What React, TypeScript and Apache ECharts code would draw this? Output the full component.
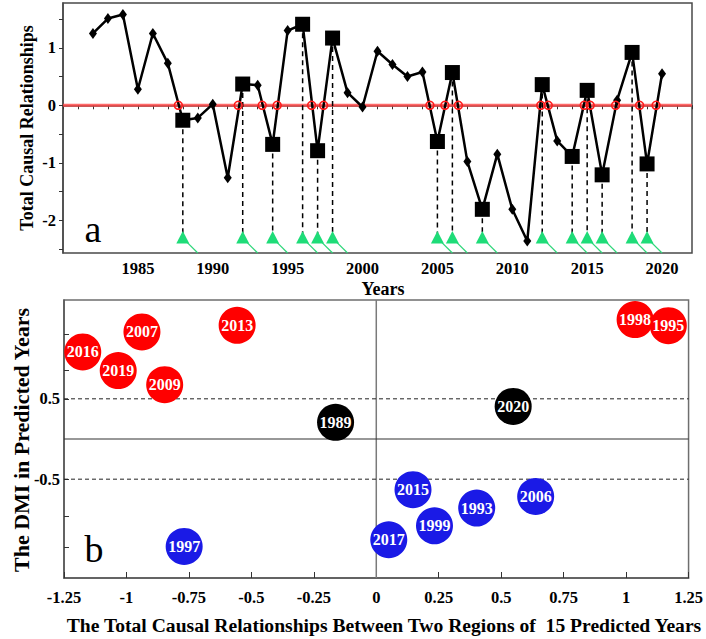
import React, { useEffect, useRef } from "react";
import * as echarts from "echarts";

// ---------- Panel a: time series ----------
const years = [
  1982, 1983, 1984, 1985, 1986, 1987, 1988, 1989, 1990, 1991, 1992, 1993, 1994,
  1995, 1996, 1997, 1998, 1999, 2000, 2001, 2002, 2003, 2004, 2005, 2006, 2007,
  2008, 2009, 2010, 2011, 2012, 2013, 2014, 2015, 2016, 2017, 2018, 2019, 2020,
];
const totalCausal = [
  1.25, 1.51, 1.58, 0.28, 1.25, 0.73, -0.26, -0.22, 0.02, -1.26, 0.37, 0.35, -0.68,
  1.3, 1.41, -0.79, 1.17, 0.22, -0.03, 0.94, 0.71, 0.5, 0.58, -0.63, 0.57, -0.98,
  -1.81, -0.85, -1.81, -2.36, 0.36, -0.62, -0.89, 0.26, -1.21, 0.09, 0.92, -1.02, 0.55,
];
const predictedYears = [
  1988, 1992, 1994, 1996, 1997, 1998, 2005, 2006, 2008, 2012, 2014, 2015, 2016, 2018, 2019,
];
const zeroCrossings = [
  1987.7, 1991.7, 1993.3, 1994.3, 1996.6, 1997.4, 2004.5, 2005.5, 2006.4, 2011.9,
  2012.4, 2014.8, 2015.2, 2016.9, 2018.5, 2019.6,
];
const markerLevel = -2.31;
const topXLabels = [1985, 1990, 1995, 2000, 2005, 2010, 2015, 2020];
const topTicks = [-2.5, -2, -1.5, -1, -0.5, 0, 0.5, 1, 1.5];
const topLabels = [-2, -1, 0, 1];

// ---------- Panel b: scatter ----------
const bubbleYears = [
  "2016", "2007", "2013", "2019", "2009", "1989", "1998", "1995", "2020",
  "2015", "2006", "1993", "1999", "2017", "1997",
];
const bubbleX = [
  -1.175, -0.938, -0.557, -1.033, -0.847, -0.163, 1.036, 1.169, 0.548,
  0.147, 0.638, 0.402, 0.233, 0.05, -0.769,
];
const bubbleY = [
  1.083, 1.333, 1.415, 0.851, 0.676, 0.207, 1.486, 1.411, 0.406,
  -0.631, -0.715, -0.859, -1.08, -1.254, -1.337,
];
const bubbleGroup = [
  "pos", "pos", "pos", "pos", "pos", "neutral", "pos", "pos", "neutral",
  "neg", "neg", "neg", "neg", "neg", "neg",
];
const bottomYTicks = [-1.35, -0.96, -0.5, 0.5, 0.86, 1.3];
const bottomYLabels = [-0.5, 0.5];

const FONT = "Liberation Serif";
const groupColor: Record<string, string> = {
  pos: "#ff0000",
  neutral: "#000000",
  neg: "#1a1ae6",
};

const tickLabel = {
  color: "#000",
  fontFamily: FONT,
  fontWeight: "bold" as const,
  fontSize: 16.5,
  formatter: (v: number) => String(v),
};

export default function App() {
  const ref = useRef<HTMLDivElement>(null);

  useEffect(() => {
    document.body.style.margin = "0";
    if (!ref.current) return;
    const chart = echarts.init(ref.current, undefined, { renderer: "svg" });

    const lineData = years.map((y, i) => [y, totalCausal[i]]);
    const valueOf = (y: number) => totalCausal[years.indexOf(y)];
    const squareData = predictedYears.map((y) => [y, valueOf(y)]);
    const crossData = zeroCrossings.map((x) => [x, 0]);
    const topMin = -2.57;
    const topMax = 1.78;

    const bubbleData = bubbleYears.map((name, i) => ({
      name,
      value: [bubbleX[i], bubbleY[i]],
      itemStyle: { color: groupColor[bubbleGroup[i]], opacity: 1 },
    }));

    const option: any = {
      animation: false,
      backgroundColor: "#ffffff",
      textStyle: { fontFamily: FONT, fontWeight: "bold", fontSize: 16 },
      grid: [
        {
          left: 63, top: 3, width: 629, height: 250,
          show: true, borderColor: "#4a4a4a", borderWidth: 1.5, backgroundColor: "transparent",
        },
        {
          left: 64, top: 300, width: 627, height: 278,
          show: true, borderColor: "#6e6e6e", borderWidth: 1.5, backgroundColor: "transparent",
        },
      ],
      xAxis: [
        {
          type: "value", gridIndex: 0, min: 1980, max: 2022, interval: 1,
          axisLine: { show: true, lineStyle: { color: "#4a4a4a", width: 1.5 } },
          axisTick: { show: true, inside: false, length: 4, lineStyle: { color: "#333" } },
          axisLabel: { ...tickLabel, margin: 7, customValues: topXLabels },
          splitLine: { show: false },
        },
        {
          type: "value", gridIndex: 1, min: -1.25, max: 1.25, interval: 0.25,
          axisLine: { show: true, onZero: false, lineStyle: { color: "#555", width: 1.5 } },
          axisTick: { show: true, inside: true, length: 6, lineStyle: { color: "#333" } },
          axisLabel: { ...tickLabel, margin: 11 },
          splitLine: { show: false },
        },
      ],
      yAxis: [
        {
          type: "value", gridIndex: 0, min: topMin, max: topMax,
          axisLine: { show: true, lineStyle: { color: "#4a4a4a", width: 1.5 } },
          axisTick: { show: true, inside: false, length: 4, customValues: topTicks, lineStyle: { color: "#333" } },
          axisLabel: { ...tickLabel, margin: 7, customValues: topLabels },
          splitLine: { show: false },
        },
        {
          type: "value", gridIndex: 1, min: -1.73, max: 1.73,
          axisLine: { show: true, onZero: false, lineStyle: { color: "#555", width: 1.5 } },
          axisTick: { show: true, inside: true, length: 5, customValues: bottomYTicks, lineStyle: { color: "#333" } },
          axisLabel: { ...tickLabel, margin: 4, customValues: bottomYLabels },
          splitLine: { show: false },
        },
      ],
      series: [
        // red zero line
        {
          type: "line", xAxisIndex: 0, yAxisIndex: 0, z: 1,
          data: [[1980, 0], [2022, 0]],
          showSymbol: false, symbol: "none",
          lineStyle: { color: "#ff4545", width: 3, opacity: 0.8 },
          silent: true,
        },
        // dashed drop lines
        {
          type: "custom", xAxisIndex: 0, yAxisIndex: 0, z: 2,
          data: squareData,
          renderItem: (params: any, api: any) => {
            const p1 = api.coord([api.value(0), api.value(1)]);
            const p2 = api.coord([api.value(0), markerLevel]);
            return {
              type: "line",
              shape: { x1: p1[0], y1: p1[1], x2: p2[0], y2: p2[1] },
              style: { stroke: "#000", lineWidth: 1.5, lineDash: [5, 4] },
            };
          },
          silent: true,
        },
        // green markers
        {
          type: "custom", xAxisIndex: 0, yAxisIndex: 0, z: 3,
          data: predictedYears.map((y) => [y, markerLevel]),
          renderItem: (params: any, api: any) => {
            const c = api.coord([api.value(0), api.value(1)]);
            const e = api.coord([api.value(0) + 1, topMin]);
            return {
              type: "group",
              children: [
                {
                  type: "line",
                  shape: { x1: c[0], y1: c[1], x2: e[0], y2: e[1] },
                  style: { stroke: "#2fd67a", lineWidth: 1.2 },
                },
                {
                  type: "polygon",
                  shape: { points: [[c[0], c[1] - 7], [c[0] - 6.5, c[1] + 5.5], [c[0] + 6.5, c[1] + 5.5]] },
                  style: { fill: "#1edc78" },
                },
              ],
            };
          },
          silent: true,
        },
        // main line with diamonds
        {
          type: "line", xAxisIndex: 0, yAxisIndex: 0, z: 4,
          data: lineData,
          symbol: "diamond", symbolSize: [8, 11], showSymbol: true,
          lineStyle: { color: "#000", width: 2.5 },
          itemStyle: { color: "#000", opacity: 1 },
          silent: true,
        },
        // squares
        {
          type: "scatter", xAxisIndex: 0, yAxisIndex: 0, z: 5,
          data: squareData,
          symbol: "rect", symbolSize: 15,
          itemStyle: { color: "#000", opacity: 1 },
          silent: true,
        },
        // zero-crossing circles
        {
          type: "scatter", xAxisIndex: 0, yAxisIndex: 0, z: 6,
          data: crossData,
          symbol: "circle", symbolSize: 8,
          itemStyle: { color: "rgba(255,255,255,0)", borderColor: "#ff1a1a", borderWidth: 1.5, opacity: 1 },
          silent: true,
        },
        // panel b reference lines
        {
          type: "line", xAxisIndex: 1, yAxisIndex: 1, z: 1,
          data: [[0, -1.73], [0, 1.73]], symbol: "none",
          lineStyle: { color: "#7a7a7a", width: 1.5 }, silent: true,
        },
        {
          type: "line", xAxisIndex: 1, yAxisIndex: 1, z: 1,
          data: [[-1.25, 0], [1.25, 0]], symbol: "none",
          lineStyle: { color: "#333", width: 1.2 }, silent: true,
        },
        {
          type: "line", xAxisIndex: 1, yAxisIndex: 1, z: 1,
          data: [[-1.25, 0.5], [1.25, 0.5]], symbol: "none",
          lineStyle: { color: "#222", width: 1, type: [4, 3] }, silent: true,
        },
        {
          type: "line", xAxisIndex: 1, yAxisIndex: 1, z: 1,
          data: [[-1.25, -0.5], [1.25, -0.5]], symbol: "none",
          lineStyle: { color: "#222", width: 1, type: [4, 3] }, silent: true,
        },
        // bubbles
        {
          type: "scatter", xAxisIndex: 1, yAxisIndex: 1, z: 5,
          data: bubbleData,
          symbolSize: 37,
          label: {
            show: true, position: "inside", formatter: "{b}",
            color: "#fff", fontFamily: FONT, fontWeight: "bold", fontSize: 16,
          },
          silent: true,
        },
      ],
      graphic: [
        {
          type: "text", x: 27, y: 128, rotation: Math.PI / 2,
          style: {
            text: "Total Causal Relationships", fill: "#000", font: `bold 18px ${FONT}`,
            align: "center", verticalAlign: "middle",
          },
        },
        {
          type: "text", x: 383, y: 289,
          style: {
            text: "Years", fill: "#000", font: `bold 18px ${FONT}`,
            align: "center", verticalAlign: "middle",
          },
        },
        {
          type: "text", x: 93, y: 229,
          style: {
            text: "a", fill: "#000", font: `38px ${FONT}`,
            align: "center", verticalAlign: "middle",
          },
        },
        {
          type: "text", x: 21, y: 440, rotation: Math.PI / 2,
          style: {
            text: "The DMI in Predicted Years", fill: "#000", font: `bold 22px ${FONT}`,
            align: "center", verticalAlign: "middle",
          },
        },
        {
          type: "text", x: 384, y: 625,
          style: {
            text: "The Total Causal Relationships Between Two Regions of  15 Predicted Years",
            fill: "#000", font: `bold 19.6px ${FONT}`,
            align: "center", verticalAlign: "middle",
          },
        },
        {
          type: "text", x: 94, y: 549,
          style: {
            text: "b", fill: "#000", font: `38px ${FONT}`,
            align: "center", verticalAlign: "middle",
          },
        },
      ],
    };

    chart.setOption(option);
    return () => chart.dispose();
  }, []);

  return (
    <div
      ref={ref}
      style={{ position: "absolute", left: 0, top: 0, width: 706, height: 639 }}
    />
  );
}
